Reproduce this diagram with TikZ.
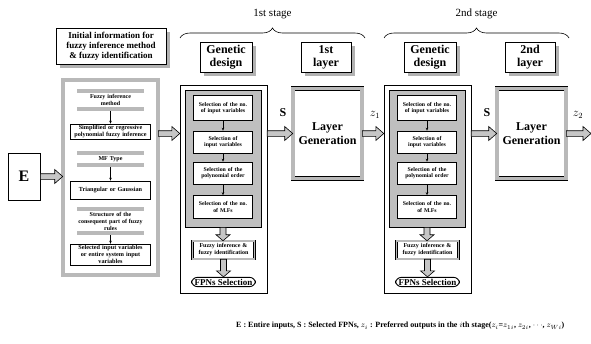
\documentclass[tikz,border=0pt]{standalone}
\usepackage{fontspec}
\setmainfont{Liberation Serif}
\usetikzlibrary{shadows,decorations.pathreplacing,calc,arrows.meta}
\newcommand\hollowH[2]{\path[harrow] let \p1=#1, \p2=#2 in (\x1,{\y1+2.8pt}) -- ({\x2-8pt},{\y1+2.8pt}) -- ({\x2-8pt},{\y1+7pt}) -- (\x2,\y1) -- ({\x2-8pt},{\y1-7pt}) -- ({\x2-8pt},{\y1-2.8pt}) -- (\x1,{\y1-2.8pt}) -- cycle;}
\newcommand\hollowV[2]{\path[harrow] let \p1=#1, \p2=#2 in ({\x1-3pt},\y1) -- ({\x1-3pt},{\y2+6pt}) -- ({\x1-7pt},{\y2+6pt}) -- (\x1,\y2) -- ({\x1+7pt},{\y2+6pt}) -- ({\x1+3pt},{\y2+6pt}) -- ({\x1+3pt},\y1) -- cycle;}
\tikzset{
  harrow/.style={draw, line width=0.6pt, fill=gray!45, line join=miter},
  thinarr/.style={-{Stealth[length=3pt,width=2.5pt]}, line width=0.6pt},
  capbox/.style={draw, line width=0.9pt, fill=white, align=center, inner sep=2pt,
    font=\bfseries\fontsize{12}{13}\selectfont,
    drop shadow={shadow xshift=3.5pt, shadow yshift=-3.5pt, fill=gray!60, opacity=1}},
  hframe/.style={draw, line width=0.6pt, double=gray!55, double distance=3.5pt, fill=white},
  gframe/.style={draw, line width=0.6pt, fill=gray!50},
  sbox/.style={draw, fill=white, line width=0.6pt, text width=57pt, align=center, inner sep=1pt,
    font=\bfseries\fontsize{5.8}{6.6}\selectfont},
  pbox/.style={draw, fill=white, line width=0.7pt, text width=78pt, align=center, inner sep=1pt,
    font=\bfseries\fontsize{6.2}{7.2}\selectfont},
  blabel/.style={text width=74pt, align=center, inner sep=1pt, font=\bfseries\fontsize{6}{7}\selectfont},
  band/.style={fill=gray!55},
  lbl/.style={font=\bfseries\fontsize{12}{13}\selectfont},
  foottext/.style={anchor=west, font=\bfseries\fontsize{8}{9}\selectfont, inner sep=0pt},
}
\begin{document}
\begin{tikzpicture}[x=1pt,y=-1pt]
\useasboundingbox (0,0) rectangle (591,343);

% title and E
\node[capbox, font=\bfseries\fontsize{9}{10}\selectfont, minimum width=110, minimum height=36, line width=0.8pt] (title) at (111,46.5)
  {Initial information for\\fuzzy inference method\\\& fuzzy identification};
\node[draw, line width=0.6pt, minimum width=32, minimum height=47, font=\bfseries\fontsize{16}{16}\selectfont] (E) at (24,176.5) {E};

% left panel
\node[hframe, minimum width=95, minimum height=195] (panel) at (110.5,177.5) {};
\node[blabel] (fim) at (110.5,100) {Fuzzy inference\\method};
\node[pbox] (simp) at (110.5,131.5) {Simplified or regressive\\polynomial fuzzy inference};
\node[blabel] (mft) at (110.5,159) {MF Type};
\node[pbox, minimum height=18] (tri) at (110.5,190) {Triangular or Gaussian};
\node[blabel] (struc) at (110.5,221) {Structure of the\\consequent part of fuzzy\\rules};
\node[pbox] (sel) at (110.5,254.5) {Selected input variables\\or entire system input\\variables};
\foreach \n in {fim,mft,struc}{
  \fill[band] ([xshift=5pt]\n.north west) rectangle ([xshift=-5pt,yshift=4pt]\n.north east);
  \fill[band] ([xshift=5pt,yshift=-4pt]\n.south west) rectangle ([xshift=-5pt]\n.south east);
}
\draw[thinarr] ([yshift=-4pt]fim.south) -- (simp.north);
\draw[thinarr] ([yshift=-4pt]mft.south) -- (tri.north);
\draw[thinarr] ([yshift=-4pt]struc.south) -- (sel.north);

% stages
\foreach \s/\dx/\ord in {1/0/1st,2/204/2nd}{
  \node[font=\fontsize{11}{12}\selectfont] (st\s) at (272.5+\dx,14) {\ord\ stage};
  \draw[line width=0.6pt, decorate, decoration={brace, amplitude=10pt}] (180+\dx,38) -- (365+\dx,38);
  \node[capbox, minimum width=52, minimum height=30, inner sep=1pt] (gd\s) at (226+\dx,57) {Genetic\\design};
  \node[capbox, minimum width=50, minimum height=30, inner sep=1pt] (ly\s) at (326+\dx,57) {\ord\\layer};
  \node[draw, line width=0.4pt, minimum width=87, minimum height=208] (col\s) at (223.5+\dx,189) {};
  \node[gframe, minimum width=76, minimum height=137] (fr\s) at (223+\dx,158.5) {};
  \node[sbox, minimum height=25] (ba\s) at (223+\dx,108) {Selection of the no.\\of input variables};
  \node[sbox, minimum height=22] (bb\s) at (223+\dx,142) {Selection of\\input variables};
  \node[sbox, minimum height=22] (bc\s) at (223+\dx,173) {Selection of the\\polynomial order};
  \node[sbox, minimum height=23] (bd\s) at (223+\dx,207) {Selection of the no.\\of M.Fs};
  \draw[thinarr] (ba\s.south) -- (bb\s.north);
  \draw[thinarr] (bb\s.south) -- (bc\s.north);
  \draw[thinarr] (bc\s.south) -- (bd\s.north);
  \node[draw, line width=0.5pt, double=gray!55, double distance=1.5pt, fill=white, text width=60pt, align=center, inner sep=1pt, minimum height=18,
    font=\bfseries\fontsize{6}{7}\selectfont] (fz\s) at (223.5+\dx,250) {Fuzzy inference \&\\fuzzy identification};
  \node[draw, line width=0.9pt, rounded corners=6pt, fill=white, inner sep=1.5pt, minimum width=64,
    font=\bfseries\fontsize{9}{9.5}\selectfont] (fp\s) at (223.5+\dx,282) {FPNs Selection};
  \hollowV{(fr\s.south)}{(fz\s.north)}
  \hollowV{(fz\s.south)}{(fp\s.north)}
  \node[hframe, minimum width=69, minimum height=90, align=center, font=\bfseries\fontsize{12}{14}\selectfont] (lay\s) at (327.5+\dx,133.5) {Layer\\Generation};
  \node[lbl] (S\s) at (283+\dx,113) {S};
  \hollowH{(col\s.east |- lay\s.center)}{(lay\s.west)}
}
\node[font=\fontsize{12}{13}\selectfont] (z1) at (375,115) {$z_1$};
\node[font=\fontsize{12}{13}\selectfont] (z2) at (578,115) {$z_2$};
\coordinate (out) at (591,133.5);

\hollowH{(E.east)}{(panel.west |- E.east)}
\hollowH{(panel.east |- lay1.center)}{(col1.west |- lay1.center)}
\hollowH{(lay1.east)}{(col2.west |- lay1.center)}
\hollowH{(lay2.east)}{(out)}

\node[foottext] (foot) at (236,326) {E : Entire inputs, S : Selected FPNs, $z_i$ : Preferred outputs in the $i$th stage($z_i$=$z_{1i}$, $z_{2i}$, $\cdots$, $z_{Wi}$)};
\end{tikzpicture}
\end{document}
